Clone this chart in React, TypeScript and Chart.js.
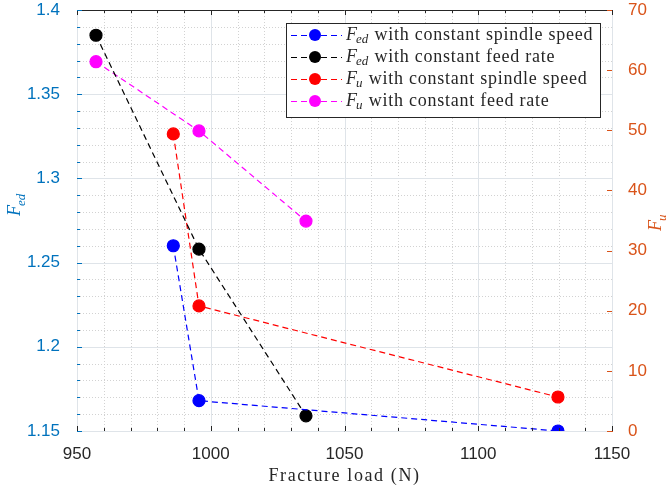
import React, { useEffect, useRef } from "react";
import { Chart, registerables } from "chart.js";
Chart.register(...registerables);

// ---- data ----
const loadSpindle = [986, 995.6, 1129.8];
const loadFeed = [957.1, 995.6, 1035.6];
const fedSpindle = [1.26, 1.168, 1.15];
const fedFeed = [1.385, 1.258, 1.159];
const fuSpindle = [49.4, 20.8, 5.65];
const fuFeed = [61.4, 49.9, 34.9];

const xRange = [950, 1150];
const fedRange = [1.15, 1.4];
const fuRange = [0, 70];

const seriesSym = ["F", "F", "F", "F"];
const seriesSub = ["ed", "ed", "u", "u"];
const seriesText = [
  "with constant spindle speed",
  "with constant feed rate",
  "with constant spindle speed",
  "with constant feed rate",
];
const seriesColors = ["#0000ff", "#000000", "#ff0000", "#ff00ff"];

const xTitle = "Fracture load (N)";
const leftColor = "#0072BD";
const rightColor = "#D95319";
const axisDark = "#262626";

const SERIF = "'Liberation Serif', 'DejaVu Serif', serif";
const SANS = "'Liberation Sans', Arial, sans-serif";

function drawSym(ctx: any, x: number, y: number, sym: string, sub: string, size: number) {
  ctx.letterSpacing = "0px";
  ctx.font = `italic ${size}px ${SERIF}`;
  ctx.fillText(sym, x, y);
  const w = ctx.measureText(sym).width;
  ctx.font = `italic ${Math.round(size * 0.72)}px ${SERIF}`;
  ctx.fillText(sub, x + w - 1, y + size * 0.25);
  return w - 1 + ctx.measureText(sub).width;
}

const overlay = {
  id: "overlay",
  beforeDatasetsDraw(chart: any) {
    const { ctx, chartArea: a, scales } = chart;
    ctx.save();
    ctx.lineWidth = 1;
    for (let v = xRange[0]; v <= xRange[1]; v += 10) {
      const px = Math.round(scales.x.getPixelForValue(v)) + 0.5;
      const major = v % 50 === 0;
      ctx.strokeStyle = major ? "#dfe4e9" : "#d2d2d2";
      ctx.setLineDash(major ? [] : [1, 2]);
      ctx.beginPath(); ctx.moveTo(px, a.top); ctx.lineTo(px, a.bottom); ctx.stroke();
    }
    for (let i = 0; i <= 25; i++) {
      const v = fedRange[0] + i * 0.01;
      const py = Math.round(scales.y.getPixelForValue(v)) + 0.5;
      const major = i % 5 === 0;
      ctx.strokeStyle = major ? "#dfe4e9" : "#d2d2d2";
      ctx.setLineDash(major ? [] : [1, 2]);
      ctx.beginPath(); ctx.moveTo(a.left, py); ctx.lineTo(a.right, py); ctx.stroke();
    }
    ctx.restore();
  },
  afterDraw(chart: any) {
    const { ctx, chartArea: a, scales } = chart;
    ctx.save();
    ctx.setLineDash([]);
    ctx.lineWidth = 1;
    ctx.strokeStyle = axisDark;
    ctx.beginPath(); ctx.moveTo(a.left, a.top + 0.5); ctx.lineTo(a.right, a.top + 0.5); ctx.stroke();
    for (let v = xRange[0]; v <= xRange[1]; v += 10) {
      const px = Math.round(scales.x.getPixelForValue(v)) + 0.5;
      const len = v % 50 === 0 ? 5 : 3;
      ctx.beginPath();
      ctx.moveTo(px, a.bottom); ctx.lineTo(px, a.bottom - len);
      ctx.moveTo(px, a.top); ctx.lineTo(px, a.top + len);
      ctx.stroke();
    }
    ctx.strokeStyle = leftColor;
    for (let i = 0; i <= 25; i++) {
      const v = fedRange[0] + i * 0.01;
      const py = Math.round(scales.y.getPixelForValue(v)) + 0.5;
      const len = i % 5 === 0 ? 5 : 3;
      ctx.beginPath(); ctx.moveTo(a.left, py); ctx.lineTo(a.left + len, py); ctx.stroke();
    }
    ctx.strokeStyle = rightColor;
    for (let v = fuRange[0]; v <= fuRange[1]; v += 10) {
      const py = Math.round(scales.y1.getPixelForValue(v)) + 0.5;
      ctx.beginPath(); ctx.moveTo(a.right, py); ctx.lineTo(a.right - 5, py); ctx.stroke();
    }
    // x title
    ctx.fillStyle = axisDark;
    ctx.font = `18px ${SERIF}`;
    ctx.letterSpacing = "1.6px";
    ctx.textAlign = "center";
    ctx.textBaseline = "alphabetic";
    ctx.fillText(xTitle, (a.left + a.right) / 2, 481);
    ctx.letterSpacing = "0px";
    ctx.textAlign = "left";
    // left title
    ctx.save();
    ctx.translate(20, 200);
    ctx.rotate(-Math.PI / 2);
    ctx.fillStyle = leftColor;
    ctx.translate(-16, 0);
    drawSym(ctx, 0, 0, "F", "ed", 18);
    ctx.restore();
    // right title
    ctx.save();
    ctx.translate(661, 221);
    ctx.rotate(-Math.PI / 2);
    ctx.fillStyle = rightColor;
    ctx.translate(-10, 0);
    drawSym(ctx, 0, 0, "F", "u", 18);
    ctx.restore();
    // legend
    const bx = 286.5, by = 23.5, bw = 314, bh = 94;
    ctx.fillStyle = "#ffffff";
    ctx.fillRect(bx, by, bw, bh);
    ctx.strokeStyle = axisDark;
    ctx.strokeRect(bx, by, bw, bh);
    const rowY = [35, 57, 79, 101];
    for (let i = 0; i < 4; i++) {
      const y = rowY[i];
      const c = seriesColors[i];
      ctx.strokeStyle = c;
      ctx.lineWidth = 1.2;
      ctx.setLineDash([6, 4]);
      ctx.beginPath(); ctx.moveTo(291, y + 0.5); ctx.lineTo(342, y + 0.5); ctx.stroke();
      ctx.setLineDash([]);
      ctx.fillStyle = c;
      ctx.beginPath(); ctx.arc(315, y, 6, 0, Math.PI * 2); ctx.fill();
      ctx.fillStyle = axisDark;
      ctx.textBaseline = "middle";
      const w = drawSym(ctx, 346, y, seriesSym[i], seriesSub[i], 18);
      ctx.font = `18px ${SERIF}`;
      ctx.letterSpacing = "0.75px";
      ctx.fillText(" " + seriesText[i], 346 + w + 1, y);
      ctx.letterSpacing = "0px";
    }
    ctx.restore();
  },
};

function pts(xs: number[], ys: number[]) {
  return xs.map((x, i) => ({ x, y: ys[i] }));
}

export default function App() {
  const ref = useRef<HTMLCanvasElement>(null);
  useEffect(() => {
    if (!ref.current) return;
    const mk = (label: string, data: any, color: string, axis: string) => ({
      label,
      data,
      yAxisID: axis,
      showLine: true,
      borderColor: color,
      backgroundColor: color,
      pointBackgroundColor: color,
      pointBorderColor: color,
      pointRadius: 6,
      borderWidth: 1.2,
      borderDash: [6, 4],
      fill: false,
    });
    const vFit = (w: number) => (s: any) => {
      s.width = w;
      s.paddingTop = 10;
      s.paddingBottom = 0;
    };
    const chart = new Chart(ref.current, {
      type: "scatter",
      data: {
        datasets: [
          mk("Fed with constant spindle speed", pts(loadSpindle, fedSpindle), seriesColors[0], "y"),
          mk("Fed with constant feed rate", pts(loadFeed, fedFeed), seriesColors[1], "y"),
          mk("Fu with constant spindle speed", pts(loadSpindle, fuSpindle), seriesColors[2], "y1"),
          mk("Fu with constant feed rate", pts(loadFeed, fuFeed), seriesColors[3], "y1"),
        ],
      },
      options: {
        animation: false,
        responsive: false,
        devicePixelRatio: 1,
        layout: { padding: { top: 10, left: 0, right: 0, bottom: 0 } },
        plugins: { legend: { display: false }, tooltip: { enabled: false } },
        scales: {
          x: {
            type: "linear",
            min: xRange[0],
            max: xRange[1],
            grid: { display: false },
            border: { color: axisDark, width: 1 },
            ticks: {
              stepSize: 50,
              color: axisDark,
              font: { size: 17, family: SANS },
              padding: 5,
              maxRotation: 0,
              callback: (v: any) => String(Math.round(Number(v))),
            },
            afterFit: (s: any) => { s.height = 58; s.paddingLeft = 0; s.paddingRight = 0; },
          },
          y: {
            type: "linear",
            position: "left",
            min: fedRange[0],
            max: fedRange[1],
            grid: { display: false },
            border: { color: leftColor, width: 1 },
            ticks: {
              stepSize: 0.05,
              color: leftColor,
              font: { size: 17, family: SANS },
              padding: 9,
              callback: (v: any) => String(parseFloat(Number(v).toFixed(2))),
            },
            afterFit: vFit(77),
          },
          y1: {
            type: "linear",
            position: "right",
            min: fuRange[0],
            max: fuRange[1],
            grid: { display: false },
            border: { color: rightColor, width: 1 },
            ticks: { stepSize: 10, color: rightColor, font: { size: 17, family: SANS }, padding: 8 },
            afterFit: vFit(57),
          },
        },
      } as any,
      plugins: [overlay],
    });
    return () => chart.destroy();
  }, []);
  return (
    <div style={{ position: "absolute", left: 0, top: 0, width: 669, height: 489, background: "#fff" }}>
      <canvas ref={ref} width={669} height={489} style={{ width: 669, height: 489 }} />
    </div>
  );
}
